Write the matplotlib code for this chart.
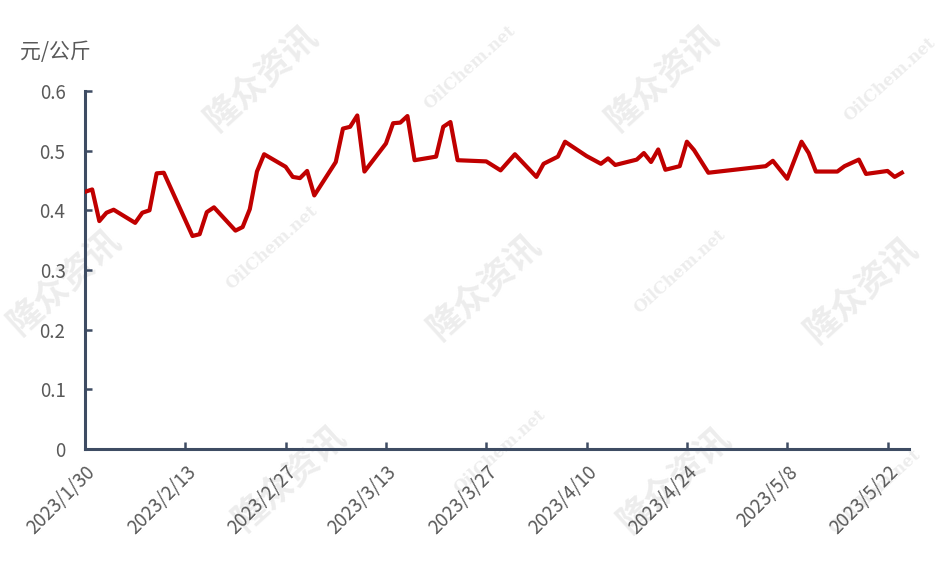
import matplotlib
matplotlib.use("Agg")
import matplotlib.pyplot as plt
import pandas as pd

plt.rcParams['font.family'] = ['Noto Sans CJK SC', 'DejaVu Sans']

dates = ["2023-01-30", "2023-01-31", "2023-02-01", "2023-02-02", "2023-02-03",
         "2023-02-06", "2023-02-07", "2023-02-08", "2023-02-09", "2023-02-10",
         "2023-02-14", "2023-02-15", "2023-02-16", "2023-02-17",
         "2023-02-20", "2023-02-21", "2023-02-22", "2023-02-23", "2023-02-24",
         "2023-02-27", "2023-02-28", "2023-03-01", "2023-03-02", "2023-03-03",
         "2023-03-06", "2023-03-07", "2023-03-08", "2023-03-09", "2023-03-10",
         "2023-03-13", "2023-03-14", "2023-03-15", "2023-03-16", "2023-03-17",
         "2023-03-20", "2023-03-21", "2023-03-22", "2023-03-23",
         "2023-03-27", "2023-03-29", "2023-03-31",
         "2023-04-03", "2023-04-04", "2023-04-06", "2023-04-07",
         "2023-04-10", "2023-04-12", "2023-04-13", "2023-04-14",
         "2023-04-17", "2023-04-18", "2023-04-19", "2023-04-20", "2023-04-21",
         "2023-04-23", "2023-04-24", "2023-04-25", "2023-04-27",
         "2023-05-05", "2023-05-06", "2023-05-08", "2023-05-10", "2023-05-11",
         "2023-05-12", "2023-05-15", "2023-05-16", "2023-05-18", "2023-05-19",
         "2023-05-22", "2023-05-23", "2023-05-24"]
values = [0.431, 0.435, 0.382, 0.396, 0.401,
          0.379, 0.396, 0.400, 0.462, 0.463,
          0.357, 0.360, 0.397, 0.405,
          0.366, 0.372, 0.402, 0.465, 0.494,
          0.473, 0.456, 0.454, 0.466, 0.425,
          0.481, 0.537, 0.540, 0.559, 0.465,
          0.512, 0.546, 0.547, 0.558, 0.484,
          0.490, 0.540, 0.548, 0.484,
          0.482, 0.467, 0.494,
          0.456, 0.478, 0.490, 0.515,
          0.491, 0.478, 0.487, 0.476,
          0.485, 0.496, 0.481, 0.502, 0.468,
          0.474, 0.515, 0.501, 0.463,
          0.474, 0.483, 0.453, 0.515, 0.496,
          0.465, 0.465, 0.474, 0.485, 0.461,
          0.466, 0.456, 0.463]

x_start = "2023-01-30"
x_end = "2023-05-25"
tick_dates = ["2023-01-30", "2023-02-13", "2023-02-27", "2023-03-13", "2023-03-27",
              "2023-04-10", "2023-04-24", "2023-05-08", "2023-05-22"]
tick_labels = ["2023/1/30", "2023/2/13", "2023/2/27", "2023/3/13", "2023/3/27",
               "2023/4/10", "2023/4/24", "2023/5/8", "2023/5/22"]
y_ticks = [0, 0.1, 0.2, 0.3, 0.4, 0.5, 0.6]
y_tick_labels = ["0", "0.1", "0.2", "0.3", "0.4", "0.5", "0.6"]
unit_label = "元/公斤"

axis_color = "#3E4C63"
text_color = "#595959"

fig = plt.figure(figsize=(9.4, 5.63), dpi=100)
ax = fig.add_axes([85/940, 1-449/563, (909-85)/940, (449-91)/563])
ax.set_zorder(2)
ax.patch.set_alpha(0)

# watermarks
wm = [("隆众资讯", 262, 78, 25), ("OilChem.net", 470, 68, 12),
      ("隆众资讯", 663, 78, 25), ("OilChem.net", 890, 80, 12),
      ("隆众资讯", 65, 282, 25), ("OilChem.net", 272, 248, 12),
      ("隆众资讯", 485, 287, 25), ("OilChem.net", 680, 272, 12),
      ("隆众资讯", 862, 290, 25), ("隆众资讯", 290, 478, 25),
      ("OilChem.net", 500, 452, 12), ("隆众资讯", 675, 480, 25),
      ("OilChem.net", 875, 492, 12)]
for t, px, py, fs in wm:
    fig.text(px/940, 1-py/563, t, rotation=42, ha='center', va='center',
             fontsize=fs, color="#EDEDED", fontweight='bold', zorder=0,
             family=['DejaVu Serif'] if fs < 20 else ['Noto Sans CJK SC'])

d = pd.to_datetime(dates)
ax.plot(d, values, color="#C00000", linewidth=3.0, solid_joinstyle='round', zorder=3)

ax.set_xlim(pd.Timestamp(x_start), pd.Timestamp(x_end))
ax.set_ylim(0, 0.6)
ax.set_yticks(y_ticks)
ax.set_yticklabels(y_tick_labels)
ax.set_xticks(pd.to_datetime(tick_dates))
ax.set_xticklabels(tick_labels, rotation=45, ha='right', rotation_mode='anchor')

for s in ['top', 'right']:
    ax.spines[s].set_visible(False)
for s in ['left', 'bottom']:
    ax.spines[s].set_color(axis_color)
    ax.spines[s].set_linewidth(2.2)

ax.tick_params(axis='both', direction='in', length=5, width=1.8, color=axis_color,
               labelcolor=text_color, labelsize=13.5)
ax.tick_params(axis='y', pad=14)
ax.tick_params(axis='x', pad=9)

fig.text(20/940, 1-52/563, unit_label, fontsize=15, color=text_color, va='center', ha='left')

fig.savefig("out.png", dpi=100)
